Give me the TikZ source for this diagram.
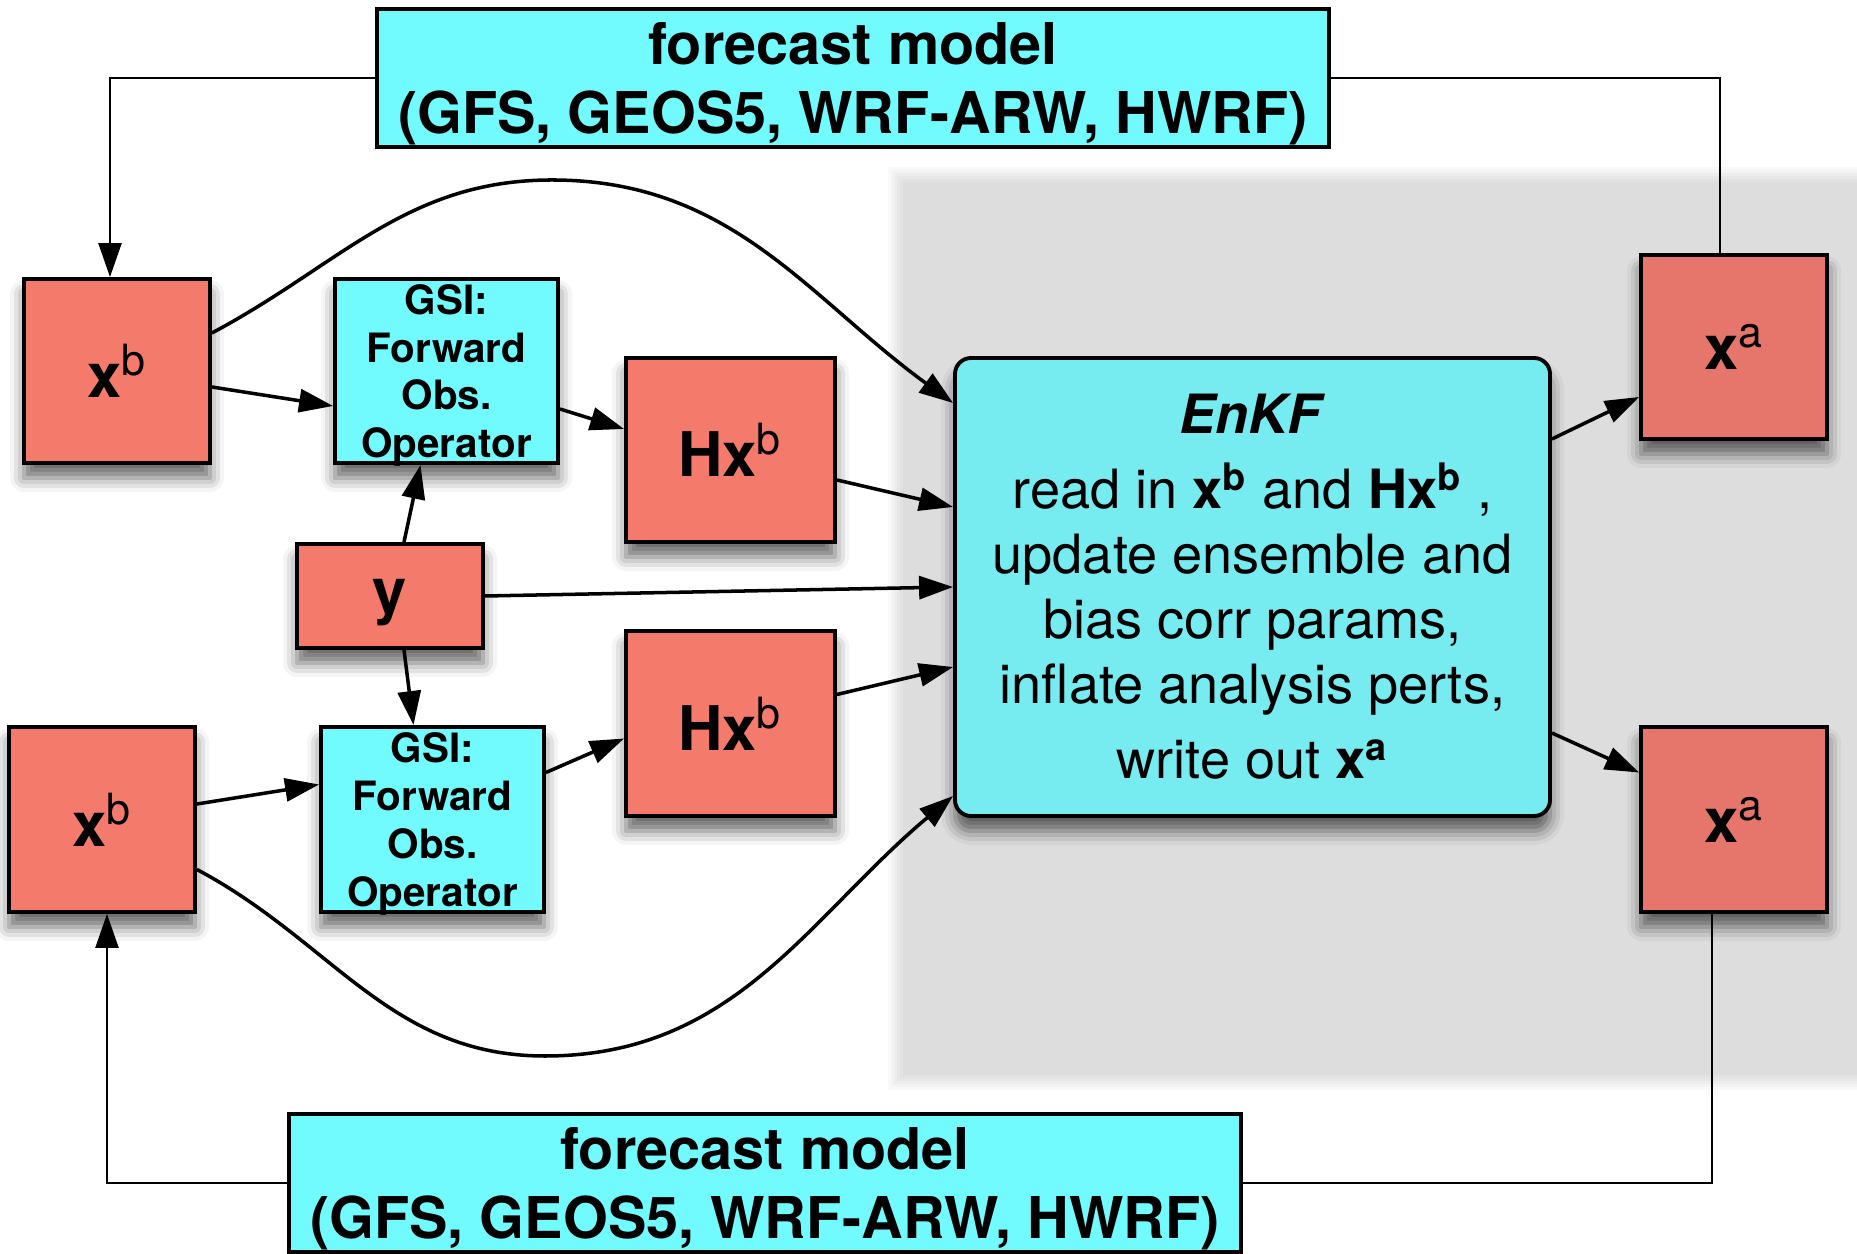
\documentclass[tikz,border=0pt]{standalone}
\usepackage{fontspec}
\setmainfont{TeX Gyre Heros}
\usepackage{xcolor}
\usetikzlibrary{arrows.meta,shadows.blur}

\definecolor{vecred}{HTML}{F47A6C}
\definecolor{vecdark}{HTML}{E6766C}
\definecolor{opcyan}{HTML}{72FBFF}
\definecolor{enkfcyan}{HTML}{76EBF0}

\newcommand{\sups}[1]{\textsuperscript{\mdseries #1}}

\tikzset{
  boxshadow/.style={blur shadow={shadow xshift=0pt, shadow yshift=-0.15cm, shadow blur radius=0.14cm, shadow opacity=60}},
  vec/.style={draw, line width=1.1pt, fill=vecred, minimum width=1.86cm, minimum height=1.84cm,
    inner sep=0pt, text depth=0pt, font=\fontsize{17.5}{20}\selectfont\bfseries, boxshadow},
  gsi/.style={draw, line width=1.1pt, fill=opcyan, minimum width=2.23cm, minimum height=1.84cm,
    inner sep=0pt, text depth=0pt, align=center, font=\fontsize{11.5}{13.6}\selectfont\bfseries, boxshadow},
  fcast/.style={draw, line width=1.1pt, fill=opcyan, minimum width=9.52cm, minimum height=1.38cm,
    inner sep=0pt, text depth=0pt, align=center, font=\fontsize{16.4}{19.5}\selectfont\bfseries},
  enkfbox/.style={draw, line width=1.1pt, fill=enkfcyan, rounded corners=0.16cm, minimum width=5.95cm,
    minimum height=4.58cm, align=center, font=\fontsize{15.4}{18.5}\selectfont, boxshadow},
  loop/.style={line width=0.7pt}
}

\begin{document}
\begin{tikzpicture}[>={Triangle[length=0.34cm,width=0.23cm]}, line width=1pt]
  \useasboundingbox (0,0) rectangle (18.57,12.53);

  % shaded panel behind the EnKF step
  \foreach \d in {0,1,...,5} {
    \fill[black, opacity=0.0243] (8.88+0.03*\d,1.63+0.03*\d) rectangle (18.6,10.86-0.03*\d);
  }

  \node[fcast] (fcTop) at (8.53,11.75) {forecast model\\(GFS, GEOS5, WRF-ARW, HWRF)};
  \node[fcast] (fcBot) at (7.65,0.70) {forecast model\\(GFS, GEOS5, WRF-ARW, HWRF)};

  \node[vec] (xbTop) at (1.17,8.82) {x\sups{b}};
  \node[gsi] (gsiTop) at (4.465,8.82) {GSI:\\Forward\\Obs.\\Operator};
  \node[vec, minimum width=2.09cm] (hxTop) at (7.305,8.03) {Hx\sups{b}};
  \node[vec, minimum height=1.04cm] (obs) at (3.90,6.57) {y};
  \node[vec, minimum width=2.09cm, minimum height=1.85cm] (hxBot) at (7.305,5.295) {Hx\sups{b}};
  \node[gsi, minimum height=1.85cm] (gsiBot) at (4.325,4.335) {GSI:\\Forward\\Obs.\\Operator};
  \node[vec, minimum height=1.85cm] (xbBot) at (1.02,4.335) {x\sups{b}};

  \node[enkfbox] (enkf) at (12.525,6.66) {\textbf{\textit{EnKF}}\\[0.1cm]
    read in \textbf{x\textsuperscript{b}} and \textbf{Hx\textsuperscript{b}} ,\\
    update ensemble and\\
    bias corr params,\\
    inflate analysis perts,\\[0.1cm]
    write out \textbf{x\textsuperscript{a}}};

  \node[vec, fill=vecdark] (xaTop) at (17.34,9.06) {x\sups{a}};
  \node[vec, fill=vecdark, minimum height=1.85cm] (xaBot) at (17.34,4.335) {x\sups{a}};

  % forecast cycle
  \draw[loop, ->] (fcTop.west) -| ([xshift=-0.07cm]xbTop.north);
  \draw[loop] ([xshift=-0.14cm]xaTop.north) |- (fcTop.east);
  \draw[loop, ->] (fcBot.west) -| ([xshift=0.05cm]xbBot.south);
  \draw[loop] ([xshift=-0.22cm]xaBot.south) |- (fcBot.east);

  % upper member
  \draw[->] ([yshift=-0.16cm]xbTop.east) -- ([yshift=-0.35cm]gsiTop.west);
  \draw[->] ([yshift=-0.38cm]gsiTop.east) -- ([yshift=0.21cm]hxTop.west);
  \draw[->] ([yshift=-0.30cm]hxTop.east) -- ([yshift=0.80cm]enkf.west);
  \coordinate (topPeak) at (5.52,10.73);
  \draw[->] ([yshift=0.38cm]xbTop.east) to[out=28,in=180] (topPeak)
    to[out=0,in=144] ([yshift=1.84cm]enkf.west);

  % observations
  \draw[->] ([xshift=0.14cm]obs.north) -- ([xshift=-0.26cm]gsiTop.south);
  \draw[->] ([xshift=0.14cm]obs.south) -- ([xshift=-0.19cm]gsiBot.north);
  \draw[->] (obs.east) -- (enkf.west);

  % lower member
  \draw[->] ([yshift=0.155cm]xbBot.east) -- ([yshift=0.35cm]gsiBot.west);
  \draw[->] ([yshift=0.47cm]gsiBot.east) -- ([yshift=-0.15cm]hxBot.west);
  \draw[->] ([yshift=0.29cm]hxBot.east) -- ([yshift=-0.80cm]enkf.west);
  \coordinate (botTrough) at (5.45,1.97);
  \draw[->] ([yshift=-0.50cm]xbBot.east) to[out=-28,in=180] (botTrough)
    to[out=0,in=220] ([yshift=-2.09cm]enkf.west);

  % analysis out
  \draw[->] ([yshift=1.48cm]enkf.east) -- ([yshift=-0.50cm]xaTop.west);
  \draw[->] ([yshift=-1.46cm]enkf.east) -- ([yshift=0.47cm]xaBot.west);
\end{tikzpicture}
\end{document}
